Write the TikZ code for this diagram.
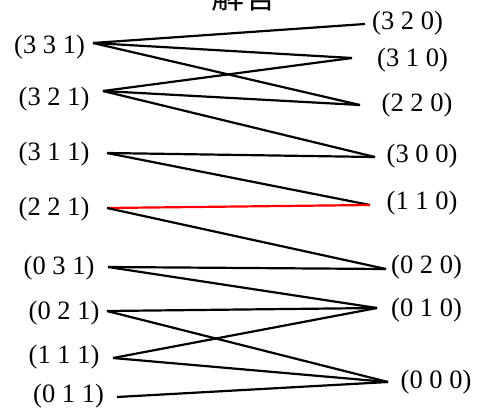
\documentclass[tikz,border=0pt]{standalone}
\usepackage{fontspec}
\setmainfont{Liberation Serif}
\newfontfamily\cjk{Noto Sans CJK SC}
\begin{document}
\begin{tikzpicture}[x=1pt,y=-1pt,
  lbl/.style={inner sep=0pt,font=\fontsize{26.5}{30}\selectfont},
  edge/.style={line width=2.2pt,black},
  hl/.style={line width=2.2pt,red}]
\useasboundingbox[fill=white] (0,0) rectangle (478,409);
\node[font=\cjk\fontsize{33}{36}\selectfont,inner sep=0pt,anchor=base] (title) at (244,9) {解答};
% left labels
\node[lbl] (L331) at (49.5,47) {(3 3 1)};
\node[lbl] (L321) at (54,99) {(3 2 1)};
\node[lbl] (L311) at (54,154) {(3 1 1)};
\node[lbl] (L221) at (54,209) {(2 2 1)};
\node[lbl] (L031) at (59,268) {(0 3 1)};
\node[lbl] (L021) at (64,313) {(0 2 1)};
\node[lbl] (L111) at (64,357) {(1 1 1)};
\node[lbl] (L011) at (68.5,396) {(0 1 1)};
% right labels
\node[lbl] (R320) at (407.5,23) {(3 2 0)};
\node[lbl] (R310) at (412.5,60) {(3 1 0)};
\node[lbl] (R220) at (417,105) {(2 2 0)};
\node[lbl] (R300) at (422,156) {(3 0 0)};
\node[lbl] (R110) at (422,203) {(1 1 0)};
\node[lbl] (R020) at (426.5,267) {(0 2 0)};
\node[lbl] (R010) at (426.5,310) {(0 1 0)};
\node[lbl] (R000) at (436,382) {(0 0 0)};
% connector ends
\coordinate (a331) at (93,43);
\coordinate (a321) at (103,91);
\coordinate (a311) at (107,153);
\coordinate (a221) at (107,208);
\coordinate (a031) at (108,267);
\coordinate (a021) at (107,311);
\coordinate (a111) at (113,358);
\coordinate (a011) at (117,397);
\coordinate (b320) at (365,24);
\coordinate (b310) at (352,58);
\coordinate (b220) at (360,105);
\coordinate (b300) at (375,157);
\coordinate (b110) at (370,205);
\coordinate (b020) at (386,269);
\coordinate (b010) at (377,308);
\coordinate (b000) at (388,382);
% connectors
\draw[edge] (a331) -- (b320);
\draw[edge] (a331) -- (b310);
\draw[edge] (a331) -- (b220);
\draw[edge] (a321) -- (b310);
\draw[edge] (a321) -- (b220);
\draw[edge] (a321) -- (b300);
\draw[edge] (a311) -- (b300);
\draw[edge] (a311) -- (b110);
\draw[hl] (a221) -- (b110);
\draw[edge] (a221) -- (b020);
\draw[edge] (a031) -- (b020);
\draw[edge] (a031) -- (b010);
\draw[edge] (a021) -- (b010);
\draw[edge] (a021) -- (b000);
\draw[edge] (a111) -- (b010);
\draw[edge] (a111) -- (b000);
\draw[edge] (a011) -- (b000);
\end{tikzpicture}
\end{document}
